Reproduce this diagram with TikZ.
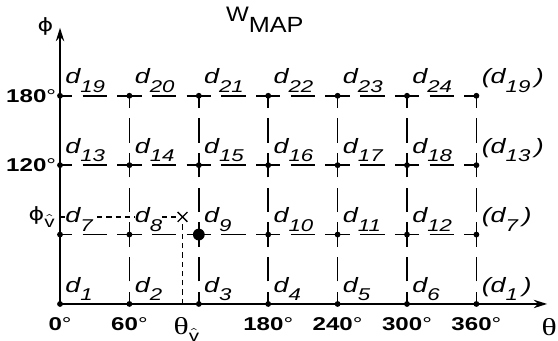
\documentclass[tikz,border=0pt]{standalone}
\usepackage{fontspec}
\setmainfont{Liberation Sans}
\newfontfamily\grk{Liberation Serif}
\newfontfamily\phifont{DejaVu Sans}
\usetikzlibrary{arrows.meta}

% the lettering of the figure is set wide
\newcommand{\wtxt}[1]{\scalebox{1.3}[1]{#1}}
\newcommand{\dsub}[1]{\wtxt{\itshape d\raisebox{-3.4pt}{\fontsize{7}{8}\selectfont #1}}}
\newcommand{\dpar}[1]{\wtxt{\itshape (d\raisebox{-3.4pt}{\fontsize{7}{8}\selectfont #1}\,)}}
\newcommand{\degr}[1]{\wtxt{\bfseries #1{\mdseries °}}}
\newcommand{\vsub}{\raisebox{-2.6pt}{\fontsize{6.5}{7}\selectfont$\hat{\mathrm{v}}$}}
\newcommand{\phisym}{{\fontsize{7.5}{9}\phifont ϕ}}

\begin{document}
\begin{tikzpicture}[
  >={Stealth[length=5.5pt,width=3.4pt]},
  font=\fontsize{8.5}{10}\selectfont,
  axis/.style={->, line width=0.8pt},
  gline/.style={line width=0.6pt, dash pattern=on 10pt off 4.23pt, dash phase=5pt},
  aux/.style={line width=0.5pt, dash pattern=on 2.2pt off 1.6pt},
  lbl/.style={inner sep=0pt, anchor=base west, fill=white},
  deg/.style={inner sep=0pt, font=\fontsize{7.6}{9}\selectfont},
  greek/.style={inner sep=0pt, font=\fontsize{10}{11}\grk},
]
\useasboundingbox (-0.865,-0.533) rectangle (7.176,4.380);

% grid points
\foreach \i in {0,...,6}
  \foreach \j in {0,...,3}
    \coordinate (p\i\j) at (\i,\j);
\coordinate (xend) at (7.02,0);
\coordinate (yend) at (0,3.98);
\coordinate (vhat) at (1.765,1.254);
\coordinate (vphi) at (0,1.254);
\coordinate (vth) at (1.765,0);

% dashed grid
\foreach \j in {1,2,3}
  \draw[gline] (p0\j) -- (p6\j);
\foreach \i in {1,...,6}
  \draw[gline] (p\i0) -- (p\i3);

% estimate
\draw[aux, shorten >=2.5pt] (vphi) -- (vhat);
\draw[aux, shorten >=2.5pt] (vth) -- (vhat);
\draw[line width=0.55pt] (vhat) ++(-0.07,-0.07) -- ++(0.14,0.14)
  (vhat) ++(-0.07,0.07) -- ++(0.14,-0.14);

% cell labels
\foreach \i in {0,...,5}
  \foreach \j in {0,...,3} {
    \pgfmathtruncatemacro\k{6*\j+\i+1}
    \node[lbl] (d\k) at (\i+0.07,\j+0.17) {\dsub{\k}};
  }
\foreach \j/\k in {0/1,1/7,2/13,3/19}
  \node[lbl] (r\k) at (6.07,\j+0.17) {\dpar{\k}};

\foreach \i in {0,...,6}
  \foreach \j in {0,...,3}
    \fill (p\i\j) circle (0.042);
\fill (p21) circle (0.085);

% axes
\draw[axis] (p00) -- (xend);
\draw[axis] (p00) -- (yend);

\foreach \i/\t in {0/0,1/60,3/180,4/240,5/300,6/360}
  \node[deg, anchor=north] (x\t) at (\i,-0.19) {\degr{\t}};
\foreach \j/\t in {2/120,3/180}
  \node[deg, anchor=east] (y\t) at (-0.05,\j) {\degr{\t}};

\node[greek, anchor=north] (thv) at (1.82,-0.19) {\wtxt{θ\vsub}};
\node[greek, anchor=east] (phv) at (-0.07,1.254) {\wtxt{\phisym\vsub}};
\node[greek] (theta) at (7.05,-0.33) {\wtxt{θ}};
\node[greek] (phi) at (-0.21,4.0) {\wtxt{\phisym}};
\node[inner sep=0pt] (wmap) at (2.95,4.097)
  {\scalebox{1.15}[1]{{\fontsize{8.6}{9}\selectfont W}\raisebox{-4.5pt}{\fontsize{9}{10}\selectfont MAP}}};
\end{tikzpicture}
\end{document}
